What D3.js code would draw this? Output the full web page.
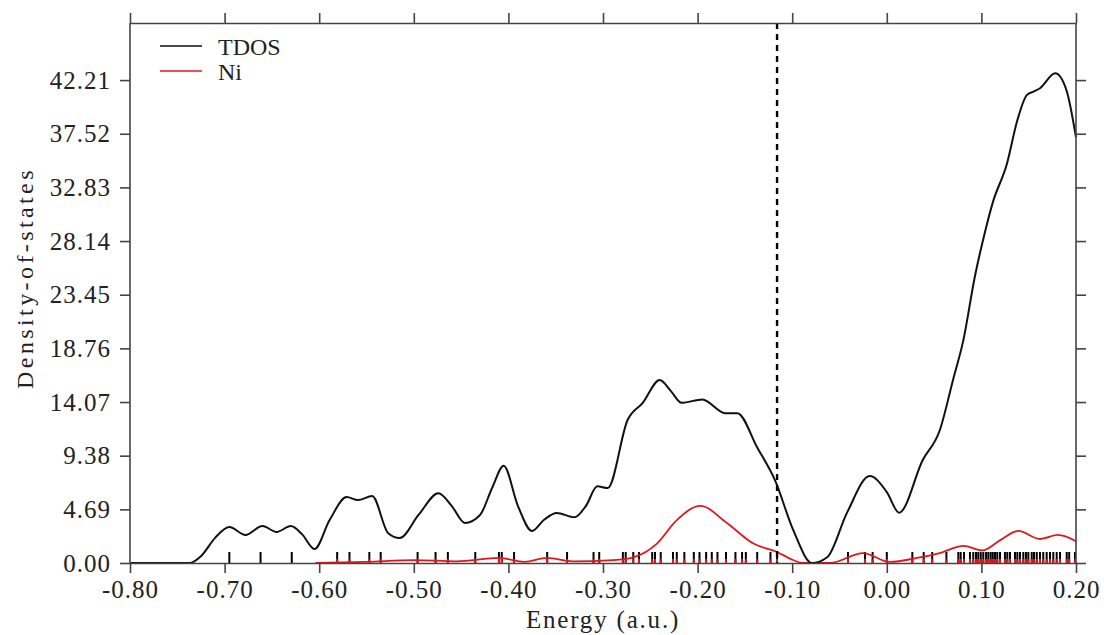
<!DOCTYPE html>
<html>
<head>
<meta charset="utf-8">
<script src="https://cdn.jsdelivr.net/npm/d3@7"></script>
<style>
  body { margin: 0; background: #fff; }
  text { font-family: "Liberation Serif", "Times New Roman", serif; fill: #222; }
</style>
</head>
<body>
<svg id="chart" width="1104" height="635"></svg>
<script>
// energy ticks and density ticks as printed on the axes
const xTicks = [-0.80, -0.70, -0.60, -0.50, -0.40, -0.30, -0.20, -0.10, 0.00, 0.10, 0.20];
const yTicks = [0.00, 4.69, 9.38, 14.07, 18.76, 23.45, 28.14, 32.83, 37.52, 42.21];

// total density of states (energy, value)
const tdosE = [-0.80, -0.737, -0.725, -0.71, -0.695, -0.678, -0.660, -0.645, -0.630, -0.618, -0.605, -0.589, -0.571, -0.559, -0.544,
  -0.527, -0.515, -0.495, -0.474, -0.460, -0.446, -0.430, -0.417, -0.405, -0.390, -0.375, -0.362, -0.349, -0.330, -0.318, -0.306,
  -0.295, -0.274, -0.258, -0.240, -0.228, -0.217, -0.195, -0.171, -0.158, -0.137, -0.118, -0.099, -0.079, -0.063, -0.042, -0.018,
  0.000, 0.013, 0.038, 0.056, 0.070, 0.081, 0.093, 0.104, 0.112, 0.127, 0.138, 0.148, 0.155, 0.162, 0.178, 0.190, 0.200];
const tdosV = [0, 0, 0.6, 2.2, 3.14, 2.45, 3.23, 2.71, 3.23, 2.5, 1.22, 3.75, 5.76, 5.5, 5.85,
  2.6, 2.18, 4.2, 6.1, 5.0, 3.5, 4.2, 6.6, 8.5, 5.0, 2.8, 3.8, 4.37, 4.0, 5.0, 6.7,
  6.55, 12.5, 14.0, 16.0, 15.0, 14.0, 14.3, 13.1, 13.1, 10.1, 7.2, 2.9, 0.0, 0.5, 4.4, 7.6,
  6.2, 4.4, 9.0, 11.6, 16.0, 19.5, 25.0, 29.0, 31.5, 34.9, 38.7, 40.9, 41.2, 41.5, 42.8, 41.3, 37.2];

// Ni projected density of states
const niE = [-0.604, -0.55, -0.50, -0.455, -0.41, -0.383, -0.359, -0.332, -0.289, -0.268, -0.243, -0.222, -0.197, -0.169, -0.141,
  -0.116, -0.099, -0.089, -0.060, -0.025, 0.003, 0.032, 0.056, 0.081, 0.101, 0.120, 0.139, 0.162, 0.181, 0.200];
const niV = [0, 0.1, 0.26, 0.15, 0.44, 0.1, 0.44, 0.15, 0.26, 0.5, 1.7, 3.75, 5.0, 3.5, 1.7,
  0.96, 0.26, 0.0, 0.0, 0.87, 0.1, 0.44, 0.87, 1.5, 1.1, 2.0, 2.8, 2.1, 2.45, 1.9];

// eigenvalue sticks along the bottom
const sticks = [-0.695, -0.662, -0.629, -0.581, -0.568, -0.547, -0.535, -0.496, -0.477, -0.464, -0.435, -0.410, -0.407, -0.394,
  -0.359, -0.338, -0.310, -0.304, -0.279, -0.276, -0.268, -0.262, -0.248, -0.245, -0.239, -0.226, -0.222, -0.214, -0.204,
  -0.198, -0.191, -0.185, -0.179, -0.170, -0.160, -0.153, -0.149, -0.137, -0.123, -0.116, -0.041, -0.023, -0.015, 0.000,
  0.027, 0.039, 0.048, 0.063, 0.0756, 0.0781, 0.0816, 0.0879, 0.0914, 0.0943, 0.0967, 0.0993, 0.102, 0.1049, 0.1073,
  0.1098, 0.112, 0.1144, 0.1168, 0.1197, 0.1249, 0.1274, 0.1302, 0.1355, 0.138, 0.1408, 0.1443, 0.1471, 0.1496, 0.1532,
  0.1556, 0.1585, 0.1619, 0.1654, 0.169, 0.1725, 0.176, 0.1796, 0.1831, 0.1902, 0.1928, 0.1989];

const homo = -0.116;
const seriesNames = ["TDOS", "Ni"];
const seriesColors = ["#111", "#e3161e"];

const svg = d3.select("#chart");
const margin = {left: 130, right: 28, top: 23, bottom: 72};
const W = 1104, H = 635;
const fontSize = 25;

const x = d3.scaleLinear().domain([-0.80, 0.20]).range([margin.left, W - margin.right]);
const y = d3.scaleLinear().domain([0, 47.2]).range([H - margin.bottom, margin.top]);

const frameColor = "#444";

// sticks first so curves go over them
const stickH = 11;
svg.append("g").selectAll("line").data(sticks).join("line")
  .attr("x1", d => x(d)).attr("x2", d => x(d))
  .attr("y1", y(0)).attr("y2", y(0) - stickH)
  .attr("stroke", "#000").attr("stroke-width", 2);
svg.append("g").selectAll("line").data(sticks.filter(d => d >= -0.6)).join("line")
  .attr("x1", d => x(d)).attr("x2", d => x(d))
  .attr("y1", y(0)).attr("y2", y(0) - 4)
  .attr("stroke", seriesColors[1]).attr("stroke-width", 2);

// curves
const line = d3.line().x(d => x(d[0])).y(d => y(d[1])).curve(d3.curveMonotoneX);
svg.append("path").datum(niE.map((e, i) => [e, niV[i]]))
  .attr("d", line).attr("fill", "none")
  .attr("stroke", seriesColors[1]).attr("stroke-width", 1.8);
svg.append("path").datum(tdosE.map((e, i) => [e, tdosV[i]]))
  .attr("d", line).attr("fill", "none")
  .attr("stroke", seriesColors[0]).attr("stroke-width", 2);

// HOMO dashed line
svg.append("line")
  .attr("x1", x(homo)).attr("x2", x(homo))
  .attr("y1", y.range()[1]).attr("y2", y(0))
  .attr("stroke", "#000").attr("stroke-width", 2.4)
  .attr("stroke-dasharray", "6,5");

// axes, ticks pointing outward on all four sides
const fmt = d => d.toFixed(2);   // plain hyphen minus like the original
const axBottom = svg.append("g").attr("transform", `translate(0,${y(0)})`)
  .call(d3.axisBottom(x).tickValues(xTicks).tickFormat(fmt).tickSize(10).tickSizeOuter(0).tickPadding(7));
const axTop = svg.append("g").attr("transform", `translate(0,${margin.top})`)
  .call(d3.axisTop(x).tickValues(xTicks).tickFormat("").tickSize(10).tickSizeOuter(0));
const axLeft = svg.append("g").attr("transform", `translate(${margin.left},0)`)
  .call(d3.axisLeft(y).tickValues(yTicks).tickFormat(fmt).tickSize(10).tickSizeOuter(0).tickPadding(9));
const axRight = svg.append("g").attr("transform", `translate(${W - margin.right},0)`)
  .call(d3.axisRight(y).tickValues(yTicks).tickFormat("").tickSize(10).tickSizeOuter(0));

[axBottom, axTop, axLeft, axRight].forEach(g => {
  g.selectAll("path, line").attr("stroke", frameColor).attr("stroke-width", 1.6);
  g.selectAll("text").attr("font-family", "Liberation Serif").attr("font-size", fontSize)
    .attr("letter-spacing", 1).attr("fill", "#222");
});
// make the left/right domain run the full height
axLeft.select(".domain").attr("d", `M0,${y.range()[1]}V${y(0)}`);
axRight.select(".domain").attr("d", `M0,${y.range()[1]}V${y(0)}`);

// axis titles
svg.append("text").attr("x", (x.range()[0] + x.range()[1]) / 2).attr("y", 628)
  .attr("text-anchor", "middle").attr("font-size", fontSize).attr("letter-spacing", 1.8)
  .text("Energy (a.u.)");
svg.append("text").attr("transform", "translate(33,278) rotate(-90)")
  .attr("text-anchor", "middle").attr("font-size", fontSize - 1).attr("letter-spacing", 3.4)
  .text("Density-of-states");

// legend
const legend = svg.append("g");
seriesNames.forEach((name, i) => {
  const ly = 46 + i * 25;
  legend.append("line").attr("x1", 160).attr("x2", 202).attr("y1", ly).attr("y2", ly)
    .attr("stroke", seriesColors[i]).attr("stroke-width", 1.5);
  legend.append("text").attr("x", 218).attr("y", ly + 9).attr("font-size", fontSize - 1).text(name);
});
</script>
</body>
</html>
